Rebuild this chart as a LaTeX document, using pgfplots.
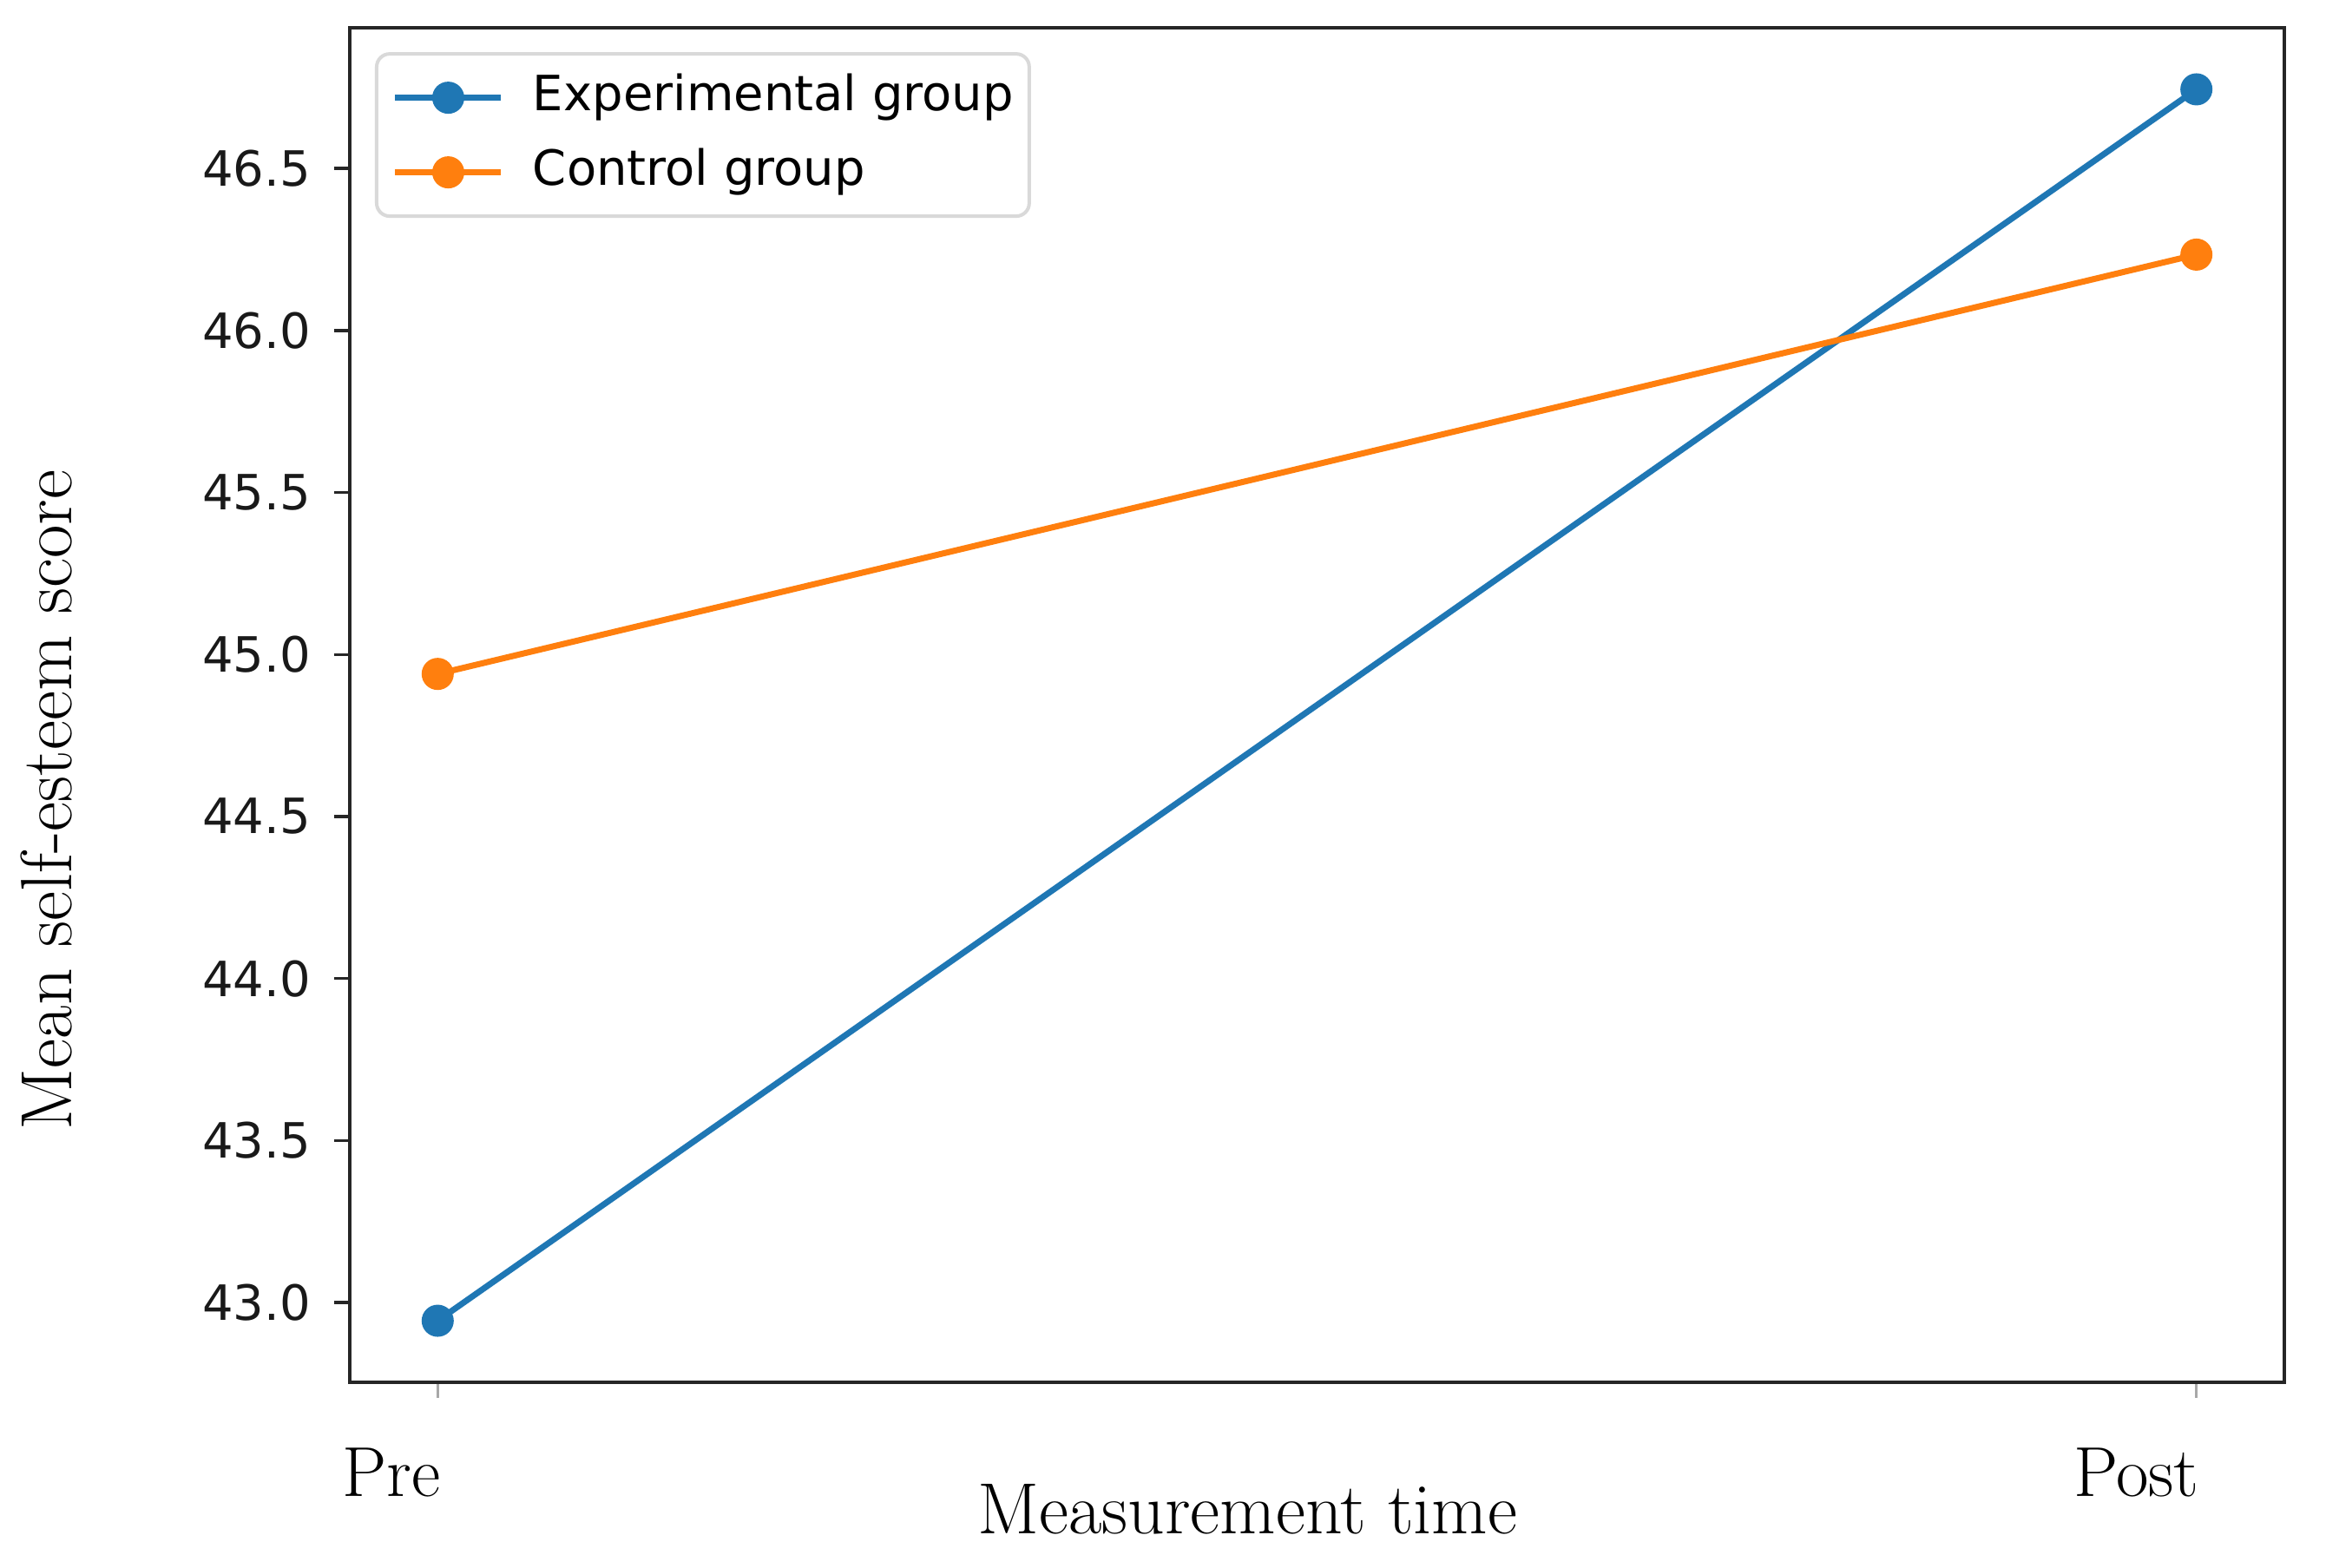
\documentclass[border=0pt]{standalone}
\usepackage{fontspec}
\usepackage{pgfplots}
\pgfplotsset{compat=1.18}
\newfontfamily\djv{DejaVu Sans}
\definecolor{tabblue}{HTML}{1F77B4}
\definecolor{taborange}{HTML}{FF7F0E}
\definecolor{spine}{HTML}{262626}
\begin{document}
\begin{tikzpicture}
\begin{axis}[
  at={(80.6pt,-318.6pt)}, anchor=south west,
  scale only axis, width=445.8pt, height=312.2pt,
  xmin=-0.05, xmax=1.05, ymin=42.754, ymax=46.934,
  xtick={0,1}, xticklabels={Pre,Post},
  ytick={43,43.5,44,44.5,45,45.5,46,46.5},
  xtick pos=bottom, ytick pos=left,
  tick align=outside, major tick length=3.6pt,
  tick style={spine, line width=0.7pt},
  xtick style={spine!40, line width=0.5pt},
  axis line style={spine, line width=0.7pt},
  /pgf/number format/assume math mode=true,
  yticklabel style={/pgf/number format/fixed, /pgf/number format/fixed zerofill, /pgf/number format/precision=1,
     font=\djv\fontsize{11.2}{13}\selectfont, anchor=east, inner sep=0pt, xshift=-5.2pt, text=black!90},
  xticklabel style={font=\fontsize{16.3}{19}\selectfont, anchor=base east, inner sep=0pt, xshift=0.8pt, yshift=-22.6pt},
  xlabel={Measurement time},
  ylabel={Mean self-esteem score},
  xlabel style={at={(axis description cs:0.464,-0.1115)}, anchor=base, inner sep=0pt, font=\fontsize{16.7}{19}\selectfont},
  ylabel style={at={(axis description cs:-0.144,0.43)}, anchor=base, rotate=0, inner sep=0pt, font=\fontsize{16.7}{19}\selectfont},
  legend style={at={(axis description cs:0.013,0.982)}, anchor=north west, draw=black!15, line width=0.8pt,
     rounded corners=3pt, fill=white, font=\djv\fontsize{11.2}{13}\selectfont,
     inner xsep=3.6pt, inner ysep=4.8pt, row sep=6.6pt, column sep=6.6pt,
     nodes={inner sep=0pt, text height=8.2pt, text depth=2.4pt}},
  legend cell align=left,
  legend image code/.code={\draw[mark repeat=2, mark phase=2] plot coordinates {(0pt,0pt)(12.2pt,0pt)(24.4pt,0pt)};},
]
\addplot[color=tabblue, line width=1.4pt, mark=*, mark size=3.5pt, mark options={solid, line width=0.4pt}]
  coordinates {(0,42.944) (1,46.744)};
\addlegendentry{Experimental group}
\addplot[color=taborange, line width=1.4pt, mark=*, mark size=3.5pt, mark options={solid, line width=0.4pt}]
  coordinates {(0,44.94) (1,46.234)};
\addlegendentry{Control group}
\end{axis}
\pgfresetboundingbox
\path[use as bounding box] (0pt,0pt) rectangle (536pt,-361.4pt);
\end{tikzpicture}
\end{document}
